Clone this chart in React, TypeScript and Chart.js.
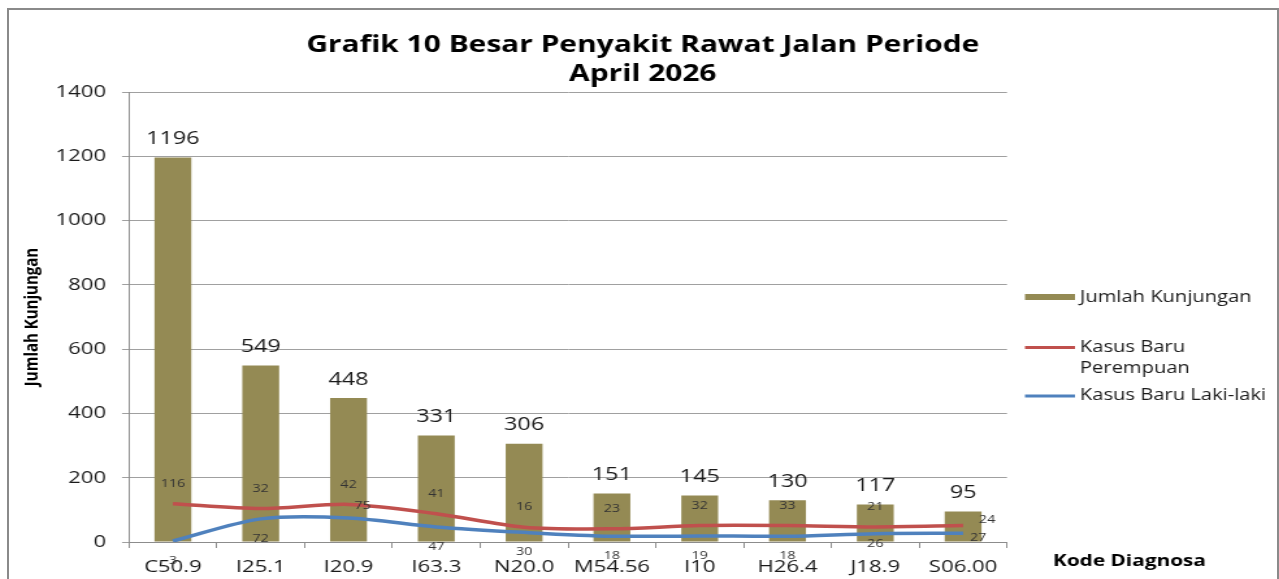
import React, { useEffect, useRef } from 'react';
import { Chart, registerables } from 'chart.js';

Chart.register(...registerables);

// ---- data ----
const categories = ['C50.9', 'I25.1', 'I20.9', 'I63.3', 'N20.0', 'M54.56', 'I10', 'H26.4', 'J18.9', 'S06.00'];
const jumlahKunjungan = [1196, 549, 448, 331, 306, 151, 145, 130, 117, 95];
const kasusBaruPerempuan = [116, 32, 42, 41, 16, 23, 32, 33, 21, 24];
const kasusBaruLakiLaki = [3, 72, 75, 47, 30, 18, 19, 18, 26, 27];
const yTickStep = 200;
const yMax = 1400;

const titleLines = ['Grafik 10 Besar Penyakit Rawat Jalan Periode', 'April 2026'];
const yAxisTitle = 'Jumlah Kunjungan';
const xAxisTitle = 'Kode Diagnosa';
const legendJumlah = 'Jumlah Kunjungan';
const legendPerempuan = ['Kasus Baru', 'Perempuan'];
const legendLaki = 'Kasus Baru Laki-laki';

// label placement keywords (style, not data)
const perempuanLabelPlacement = ['above', 'above', 'above', 'above', 'above', 'above', 'above', 'above', 'above', 'rightUp'];
const lakiLabelPlacement = ['below', 'below', 'upRight', 'below', 'below', 'below', 'below', 'below', 'under', 'rightDown'];

// ---- style ----
const SX = 1.3;
const CW = 975;
const CH = 590;
const FONT = "'Open Sans', sans-serif";
const BAR_COLOR = '#948A54';
const RED = '#C0504D';
const BLUE = '#4F81BD';
const GRID = '#a0a0a0';
const AXIS = '#8c8c8c';

const placementOffsets: Record<string, [number, number]> = {
  above: [0, -20],
  below: [0, 20],
  under: [0, 10],
  rightUp: [24, -6],
  rightDown: [15, 5],
  upRight: [14, -12],
};

const labelsPlugin = {
  id: 'customLabels',
  afterDatasetsDraw(chart: any) {
    const ctx = chart.ctx as CanvasRenderingContext2D;
    ctx.save();
    ctx.textAlign = 'center';
    ctx.textBaseline = 'middle';

    // bar value labels
    const barMeta = chart.getDatasetMeta(2);
    ctx.font = `18px ${FONT}`;
    ctx.fillStyle = '#1a1a1a';
    barMeta.data.forEach((el: any, i: number) => {
      ctx.fillText(String(jumlahKunjungan[i]), el.x, el.y - 18.5);
    });

    // line value labels
    ctx.font = `11px ${FONT}`;
    ctx.fillStyle = '#333';
    const drawLine = (idx: number, values: number[], placement: string[]) => {
      const meta = chart.getDatasetMeta(idx);
      meta.data.forEach((el: any, i: number) => {
        const [dx, dy] = placementOffsets[placement[i]] || [0, 0];
        ctx.fillText(String(values[i]), el.x + dx / SX, el.y + dy);
      });
    };
    drawLine(0, kasusBaruLakiLaki, lakiLabelPlacement);
    drawLine(1, kasusBaruPerempuan, perempuanLabelPlacement);

    // legend
    const mx0 = 781.5;
    const mx1 = 820;
    const tx = 823.8;
    ctx.textAlign = 'left';
    ctx.fillStyle = BAR_COLOR;
    ctx.fillRect(mx0, 284, mx1 - mx0, 6);
    ctx.lineWidth = 3;
    ctx.strokeStyle = RED;
    ctx.beginPath();
    ctx.moveTo(mx0, 337.5);
    ctx.lineTo(mx1, 337.5);
    ctx.stroke();
    ctx.strokeStyle = BLUE;
    ctx.beginPath();
    ctx.moveTo(mx0, 386);
    ctx.lineTo(mx1, 386);
    ctx.stroke();
    ctx.font = `15.5px ${FONT}`;
    ctx.fillStyle = '#1a1a1a';
    ctx.fillText(legendJumlah, tx, 287.5);
    ctx.fillText(legendPerempuan[0], tx, 338);
    ctx.fillText(legendPerempuan[1], tx, 359);
    ctx.fillText(legendLaki, tx, 386);

    // x axis title
    ctx.font = `bold 16px ${FONT}`;
    ctx.fillStyle = '#000';
    ctx.fillText(xAxisTitle, 803, 551);

    ctx.restore();
  },
};

export default function App() {
  const canvasRef = useRef<HTMLCanvasElement | null>(null);

  useEffect(() => {
    if (!canvasRef.current) return;
    const yTicks: number[] = [];
    for (let v = 0; v <= yMax; v += yTickStep) yTicks.push(v);

    const chart = new Chart(canvasRef.current, {
      type: 'bar',
      data: {
        labels: categories,
        datasets: [
          {
            type: 'line',
            label: 'Kasus Baru Laki-laki',
            data: kasusBaruLakiLaki,
            borderColor: BLUE,
            backgroundColor: BLUE,
            borderWidth: 3.5,
            pointRadius: 0,
            tension: 0.3,
            fill: false,
            stack: 'kasus',
          } as any,
          {
            type: 'line',
            label: 'Kasus Baru Perempuan',
            data: kasusBaruPerempuan,
            borderColor: RED,
            backgroundColor: RED,
            borderWidth: 3.5,
            pointRadius: 0,
            tension: 0.3,
            fill: false,
            stack: 'kasus',
          } as any,
          {
            type: 'bar',
            label: 'Jumlah Kunjungan',
            data: jumlahKunjungan,
            backgroundColor: BAR_COLOR,
            barPercentage: 0.42,
            categoryPercentage: 1,
            stack: 'jumlah',
          } as any,
        ],
      },
      options: {
        responsive: false,
        animation: false,
        devicePixelRatio: 1,
        layout: { padding: { left: 0, right: 0, top: 0, bottom: 0 } },
        plugins: {
          legend: { display: false },
          tooltip: { enabled: false },
          title: {
            display: true,
            text: titleLines,
            color: '#000',
            font: { family: FONT, size: 23, weight: 'bold', lineHeight: 29 / 23 },
            padding: { top: 20.5, bottom: 3.5 },
          },
        },
        scales: {
          x: {
            grid: {
              display: true,
              drawOnChartArea: false,
              drawTicks: true,
              tickLength: 6,
              offset: true,
              color: AXIS,
            },
            border: { color: AXIS, width: 1 },
            ticks: {
              font: { family: FONT, size: 17 },
              color: '#1a1a1a',
              padding: 8.5,
              autoSkip: false,
              maxRotation: 0,
            },
            afterFit: (s: any) => {
              s.height = CH - 532;
            },
          },
          y: {
            stacked: true,
            min: 0,
            max: yMax,
            afterBuildTicks: (s: any) => {
              s.ticks = yTicks.map((v) => ({ value: v }));
            },
            ticks: {
              stepSize: yTickStep,
              font: { family: FONT, size: 17 },
              color: '#1a1a1a',
              padding: 12.3,
              callback: (v: any) => String(v),
            },
            grid: { color: GRID, tickLength: 5.4 },
            border: { color: AXIS, width: 1 },
            title: {
              display: true,
              text: yAxisTitle,
              color: '#000',
              font: { family: FONT, size: 15, weight: 'bold', lineHeight: 1.2 },
              padding: { top: 8.7, bottom: 0 },
            },
            afterFit: (s: any) => {
              s.width = 92.3;
            },
          },
          legendSpace: {
            type: 'linear',
            position: 'right',
            display: true,
            grid: { display: false, drawTicks: false },
            ticks: { display: false },
            border: { display: false },
            afterFit: (s: any) => {
              s.width = CW - 767.7;
            },
          },
        },
      } as any,
      plugins: [labelsPlugin],
    });
    return () => chart.destroy();
  }, []);

  return (
    <div
      style={{
        position: 'fixed',
        left: 0,
        top: 0,
        width: 1279,
        height: 579,
        overflow: 'hidden',
        background: '#fff',
      }}
    >
      <div
        style={{
          position: 'absolute',
          left: 7,
          top: 8,
          width: 1268,
          height: 650,
          border: '2px solid #8a8a8a',
          boxSizing: 'content-box',
        }}
      />
      <div
        style={{
          position: 'absolute',
          left: 9,
          top: 10,
          width: CW,
          height: CH,
          transform: `scaleX(${SX})`,
          transformOrigin: '0 0',
        }}
      >
        <canvas ref={canvasRef} width={CW} height={CH} style={{ display: 'block' }} />
      </div>
    </div>
  );
}
